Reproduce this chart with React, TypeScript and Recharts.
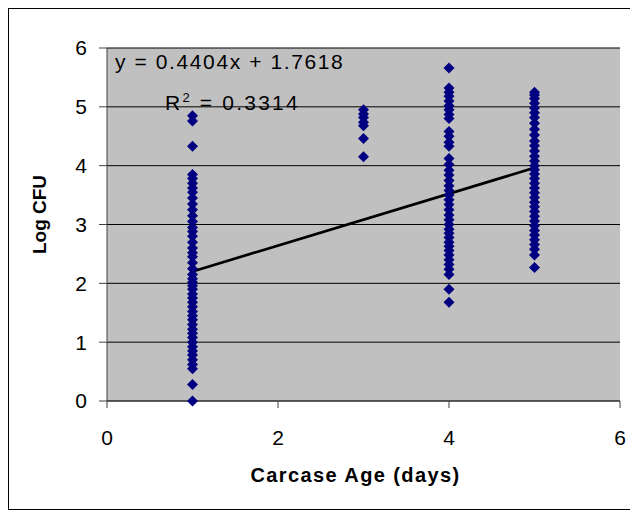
import React from "react";
import {
  ScatterChart,
  Scatter,
  XAxis,
  YAxis,
  CartesianGrid,
  ReferenceLine,
  Label,
} from "recharts";

// Log CFU readings grouped by carcase age (days)
const day1 = [
  4.85, 4.76, 4.33, 3.85, 3.78, 3.7, 3.62, 3.55, 3.45, 3.35, 3.25, 3.15, 3.05,
  2.95, 2.88, 2.8, 2.7, 2.6, 2.52, 2.45, 2.35, 2.25, 2.15, 2.08, 2.02, 1.96,
  1.9, 1.82, 1.75, 1.68, 1.6, 1.52, 1.45, 1.38, 1.3, 1.22, 1.15, 1.08, 1.0,
  0.92, 0.85, 0.78, 0.7, 0.62, 0.55, 0.28, 0.0,
];
const day3 = [4.95, 4.88, 4.82, 4.74, 4.68, 4.46, 4.15];
const day4 = [
  5.66, 5.32, 5.25, 5.18, 5.1, 5.02, 4.95, 4.87, 4.8, 4.58, 4.5, 4.4, 4.33,
  4.12, 4.02, 3.92, 3.84, 3.75, 3.66, 3.58, 3.5, 3.42, 3.34, 3.25, 3.16, 3.08,
  3.0, 2.92, 2.85, 2.78, 2.7, 2.63, 2.56, 2.48, 2.4, 2.32, 2.24, 2.15, 1.9,
  1.68,
];
const day5 = [
  5.25, 5.2, 5.14, 5.06, 4.98, 4.9, 4.82, 4.72, 4.62, 4.52, 4.42, 4.34, 4.25,
  4.16, 4.08, 4.0, 3.93, 3.86, 3.78, 3.7, 3.62, 3.54, 3.46, 3.38, 3.3, 3.22,
  3.14, 3.06, 2.98, 2.9, 2.82, 2.74, 2.66, 2.58, 2.48, 2.27,
];

const ages = [1, 3, 4, 5];
const groups = [day1, day3, day4, day5];

const points = ages.flatMap((age, i) =>
  groups[i].map((v) => ({ x: age, y: v }))
);

// linear trend: y = slope * x + intercept
const slope = 0.4404;
const intercept = 1.7618;
const rSquared = 0.3314;
const trendFrom = 1;
const trendTo = 5;

const xTicks = [0, 2, 4, 6];
const yTicks = [0, 1, 2, 3, 4, 5, 6];

const font = "'Liberation Sans', Arial, sans-serif";

const Diamond = (props: any) => {
  const { cx, cy } = props;
  const r = 5.5;
  return (
    <polygon
      points={`${cx},${cy - r} ${cx + r},${cy} ${cx},${cy + r} ${cx - r},${cy}`}
      fill="#000080"
    />
  );
};

export default function App() {
  return (
    <div
      style={{
        position: "relative",
        width: 628,
        height: 500,
        border: "1px solid #000",
        background: "#fff",
        fontFamily: font,
      }}
    >
      <ScatterChart
        width={628}
        height={500}
        margin={{ top: 39, right: 17, bottom: 0, left: 0 }}
      >
        <CartesianGrid
          vertical={false}
          stroke="#000"
          fill="#C0C0C0"
          fillOpacity={1}
        />
        <XAxis
          type="number"
          dataKey="x"
          domain={[0, 6]}
          ticks={xTicks}
          height={108}
          tickSize={7}
          tickMargin={22}
          stroke="#404040"
          tick={{ fill: "#000", fontSize: 21, fontFamily: font }}
        >
          <Label
            value="Carcase Age (days)"
            position="insideTop"
            offset={67}
            dx={-8}
            style={{
              fill: "#000",
              fontSize: 20,
              fontWeight: "bold",
              fontFamily: font,
              letterSpacing: 1.4,
            }}
          />
        </XAxis>
        <YAxis
          type="number"
          dataKey="y"
          domain={[0, 6]}
          ticks={yTicks}
          width={98}
          tickSize={8}
          tickMargin={12}
          stroke="#404040"
          tick={{ fill: "#000", fontSize: 21, fontFamily: font }}
        >
          <Label
            value="Log CFU"
            angle={-90}
            position="insideLeft"
            offset={30}
            dy={-10}
            style={{
              fill: "#000",
              fontSize: 19,
              fontWeight: "bold",
              fontFamily: font,
              textAnchor: "middle",
            }}
          />
        </YAxis>
        <Scatter data={points} shape={Diamond} isAnimationActive={false} />
        <ReferenceLine
          segment={[
            { x: trendFrom, y: slope * trendFrom + intercept },
            { x: trendTo, y: slope * trendTo + intercept },
          ]}
          stroke="#000"
          strokeWidth={2.7}
        />
      </ScatterChart>
      <div
        style={{
          position: "absolute",
          left: 106,
          top: 41,
          fontSize: 21,
          lineHeight: "24px",
          letterSpacing: 1.6,
          color: "#000",
          whiteSpace: "nowrap",
        }}
      >
        y = {slope}x + {intercept}
      </div>
      <div
        style={{
          position: "absolute",
          left: 156,
          top: 77,
          fontSize: 21,
          lineHeight: "24px",
          letterSpacing: 2.2,
          color: "#000",
          whiteSpace: "nowrap",
        }}
      >
        R<sup style={{ fontSize: 13, verticalAlign: "8px" }}>2</sup> = {rSquared}
      </div>
    </div>
  );
}
